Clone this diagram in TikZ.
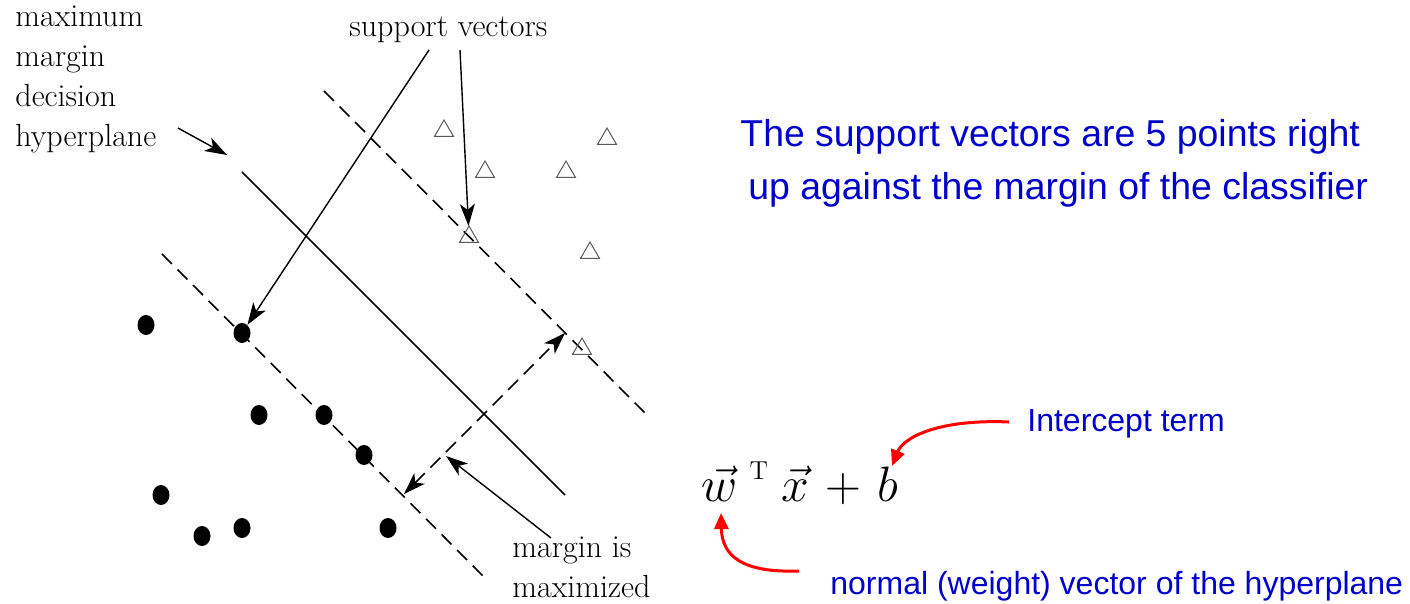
\documentclass[tikz,border=0pt]{standalone}
\usepackage{amsmath,amssymb}
\usepackage{fontspec}
\newfontfamily\notefont{Liberation Sans}
\usetikzlibrary{arrows.meta,positioning,calc,shapes.geometric}
\definecolor{noteblue}{RGB}{0,0,205}

\begin{document}
\begin{tikzpicture}[x=0.5pt,y=-0.5pt,
    point/.style={ellipse,fill=black,inner sep=0pt,minimum width=8.5pt,minimum height=10pt},
    tri/.style={regular polygon,regular polygon sides=3,draw=gray!70!black,line width=0.5pt,inner sep=0pt,minimum size=11pt},
    serif/.style={font=\fontsize{16}{18}\selectfont,inner sep=0pt,anchor=base west},
    note/.style={font=\notefont\fontsize{18.7}{22}\selectfont,text=noteblue,inner sep=0pt,anchor=base west},
    smallnote/.style={note,font=\notefont\fontsize{16}{19}\selectfont},
    pointer/.style={-{Stealth[length=11pt,width=7.5pt,inset=3pt]},line width=0.7pt},
    redarrow/.style={-{Triangle[length=8pt,width=7pt]},red,line width=1.5pt},
    margin/.style={dash pattern=on 7pt off 4pt,line width=0.8pt}]
    \useasboundingbox (0,0) rectangle (1410,604);

    % Decision hyperplane and the two margin lines
    \draw[line width=0.8pt] (242,172) -- (565,495);
    \draw[margin] (324,91) -- (647,415);
    \draw[margin] (162,254) -- (484,577);

    % Class 1: filled dots (three of them on the lower margin)
    \node[point] (d1) at (146,325) {};
    \node[point] (d2) at (242,333) {};
    \node[point] (d3) at (259,415) {};
    \node[point] (d4) at (324,415) {};
    \node[point] (d5) at (364,455) {};
    \node[point] (d6) at (161,495) {};
    \node[point] (d7) at (202,536) {};
    \node[point] (d8) at (242,528) {};
    \node[point] (d9) at (388,528) {};

    % Class 2: open triangles (two of them on the upper margin)
    \node[tri] (t1) at (444,131) {};
    \node[tri] (t2) at (607,139) {};
    \node[tri] (t3) at (485,172) {};
    \node[tri] (t4) at (566,172) {};
    \node[tri] (t5) at (469,237) {};
    \node[tri] (t6) at (590,253) {};
    \node[tri] (t7) at (582,349) {};

    % Labels of the figure
    \node[serif] (lmax) at (15,27) {maximum};
    \node[serif] (lmar) at (15,67) {margin};
    \node[serif] (ldec) at (15,107) {decision};
    \node[serif] (lhyp) at (15,147) {hyperplane};
    \node[serif] (svlab) at (349,37) {support vectors};
    \node[serif] (mlab1) at (512,558) {margin is};
    \node[serif] (mlab2) at (512,597) {maximized};

    % Pointers
    \coordinate (hyptail) at (178,128);
    \coordinate (hyptip) at (227,155);
    \draw[pointer] (hyptail) -- (hyptip);
    \coordinate (sva) at (429,50);
    \coordinate (svb) at (460,50);
    \draw[pointer] (sva) -- (d2);
    \draw[pointer] (svb) -- (t5);
    \coordinate (mtail) at (551,538);
    \coordinate (mtip) at (446,456);
    \draw[pointer] (mtail) -- (mtip);

    % Width of the margin
    \coordinate (mlo) at (404,494);
    \coordinate (mhi) at (565,333);
    \draw[margin,{Stealth[length=11pt,width=7.5pt,inset=3pt]}-{Stealth[length=11pt,width=7.5pt,inset=3pt]}] (mlo) -- (mhi);

    % Notes on the right
    \node[note] (sv1) at (740,147) {The support vectors are 5 points right};
    \node[note] (sv2) at (748,200) {up against the margin of the classifier};
    \node[smallnote] (icpt) at (1027,432) {Intercept term};
    \node[smallnote] (nrm) at (830,595) {normal (weight) vector of the hyperplane};

    % Decision function
    \node[anchor=base west,inner sep=0pt,font=\fontsize{27}{30}\selectfont] (eq) at (701,502)
        {$\vec{w}$\hspace{6pt}\raisebox{11pt}{\fontsize{13}{14}\selectfont T}\hspace{7pt}$\vec{x}$\hspace{8pt}$+$\hspace{8pt}$b$};

    \coordinate (itail) at (1009,422);
    \coordinate (itip) at (892,466);
    \draw[redarrow] (itail) .. controls (942,419) and (904,436) .. (itip);
    \coordinate (ntail) at (799,571);
    \coordinate (ntip) at (721,513);
    \draw[redarrow] (ntail) .. controls (742,573) and (722,556) .. (ntip);
  \end{tikzpicture}
\end{document}
